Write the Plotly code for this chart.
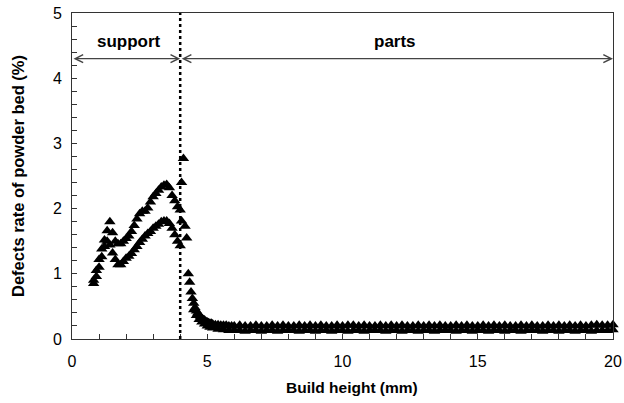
import plotly.graph_objects as go

# Support region: two interleaved branches (build height in mm, defect rate in %)
support_x = [0.8, 0.9, 1.0, 1.1, 1.2, 1.3, 1.4, 1.5, 1.6, 1.7, 1.8, 1.9, 2.0, 2.1, 2.2, 2.3, 2.4,
             2.5, 2.6, 2.7, 2.8, 2.9, 3.0, 3.1, 3.2, 3.3, 3.4, 3.5, 3.6, 3.7, 3.8, 3.9, 4.0]
support_upper = [0.90, 1.05, 1.22, 1.38, 1.52, 1.66, 1.80, 1.63, 1.50, 1.46, 1.46, 1.50, 1.54,
                 1.58, 1.65, 1.74, 1.84, 1.92, 1.96, 1.96, 2.01, 2.10, 2.18, 2.23, 2.28, 2.33,
                 2.36, 2.37, 2.32, 2.20, 2.12, 2.03, 1.98]
support_lower = [0.85, 0.96, 1.10, 1.26, 1.42, 1.50, 1.44, 1.32, 1.22, 1.14, 1.14, 1.19, 1.24,
                 1.27, 1.31, 1.37, 1.42, 1.48, 1.53, 1.58, 1.62, 1.65, 1.70, 1.73, 1.76, 1.80,
                 1.81, 1.81, 1.77, 1.70, 1.60, 1.50, 1.43]

# Transition just after the support/parts boundary
trans_x = [4.05, 4.12, 4.05, 4.18, 4.24]
trans_y = [2.40, 2.77, 1.81, 1.73, 1.55]

# Decay region
decay_x = [4.30, 4.35, 4.40, 4.45, 4.50, 4.55, 4.60, 4.65, 4.70, 4.75, 4.80, 4.85, 4.90, 4.95,
           5.00, 5.05, 5.10, 5.15, 5.20, 5.30, 5.40, 5.50, 5.60, 5.70, 5.80, 5.90]
decay_upper = [1.00, 0.87, 0.72, 0.62, 0.55, 0.48, 0.43, 0.40, 0.37, 0.34, 0.32, 0.30, 0.29, 0.27,
               0.26, 0.25, 0.24, 0.24, 0.23, 0.22, 0.22, 0.21, 0.21, 0.21, 0.20, 0.20]
decay_lower_x = [4.50, 4.60, 4.70, 4.80, 4.90, 5.00, 5.10, 5.20, 5.40, 5.60, 5.80]
decay_lower = [0.45, 0.36, 0.30, 0.26, 0.23, 0.20, 0.18, 0.17, 0.15, 0.14, 0.13]

# Parts region (flat)
parts_x = [6.0, 6.2, 6.4, 6.6, 6.8, 7.0, 7.2, 7.4, 7.6, 7.8, 8.0, 8.2, 8.4, 8.6, 8.8, 9.0, 9.2,
           9.4, 9.6, 9.8, 10.0, 10.2, 10.4, 10.6, 10.8, 11.0, 11.2, 11.4, 11.6, 11.8, 12.0, 12.2,
           12.4, 12.6, 12.8, 13.0, 13.2, 13.4, 13.6, 13.8, 14.0, 14.2, 14.4, 14.6, 14.8, 15.0,
           15.2, 15.4, 15.6, 15.8, 16.0, 16.2, 16.4, 16.6, 16.8, 17.0, 17.2, 17.4, 17.6, 17.8,
           18.0, 18.2, 18.4, 18.6, 18.8, 19.0, 19.2, 19.4, 19.6, 19.8, 20.0]
parts_upper = [0.20, 0.21, 0.20, 0.20, 0.21, 0.20, 0.20, 0.21, 0.20, 0.21, 0.20, 0.20, 0.21,
               0.20, 0.21, 0.20, 0.21, 0.20, 0.20, 0.21, 0.20, 0.21, 0.21, 0.20, 0.21, 0.20,
               0.20, 0.21, 0.20, 0.21, 0.20, 0.21, 0.20, 0.20, 0.21, 0.20, 0.21, 0.20, 0.21,
               0.20, 0.20, 0.21, 0.20, 0.21, 0.20, 0.20, 0.21, 0.20, 0.21, 0.20, 0.21, 0.20,
               0.20, 0.21, 0.20, 0.21, 0.20, 0.20, 0.21, 0.20, 0.21, 0.20, 0.21, 0.20, 0.21,
               0.20, 0.21, 0.22, 0.21, 0.21, 0.22]
parts_lower = [0.13, 0.13, 0.12, 0.13, 0.13, 0.12, 0.13, 0.13, 0.12, 0.13, 0.13, 0.13, 0.12,
               0.13, 0.13, 0.12, 0.13, 0.13, 0.12, 0.13, 0.13, 0.12, 0.13, 0.13, 0.12, 0.13,
               0.13, 0.13, 0.12, 0.13, 0.13, 0.12, 0.13, 0.13, 0.12, 0.13, 0.13, 0.12, 0.13,
               0.13, 0.13, 0.12, 0.13, 0.13, 0.12, 0.13, 0.13, 0.12, 0.13, 0.13, 0.12, 0.13,
               0.13, 0.12, 0.13, 0.13, 0.13, 0.12, 0.13, 0.13, 0.12, 0.13, 0.13, 0.12, 0.13,
               0.13, 0.12, 0.13, 0.13, 0.13, 0.14]

boundary_x = 4.0
arrow_y = 4.3
x_range = [0, 20]
y_range = [0, 5]

FONT = "Liberation Sans, Arial, sans-serif"
marker = dict(symbol="triangle-up", size=10, color="black")

fig = go.Figure()
series = [
    (support_x, support_upper), (support_x, support_lower),
    (trans_x, trans_y),
    (decay_x, decay_upper), (decay_lower_x, decay_lower),
    (parts_x, parts_upper), (parts_x, parts_lower),
]
for xs, ys in series:
    fig.add_trace(go.Scatter(x=xs, y=ys, mode="markers", marker=marker,
                             showlegend=False, cliponaxis=False))

# dotted boundary line
fig.add_shape(type="line", x0=boundary_x, x1=boundary_x, y0=y_range[0], y1=y_range[1],
              xref="x", yref="y", line=dict(color="black", width=2.5, dash="dot"))

# double-headed arrows
for x0, x1 in [(x_range[0], boundary_x), (boundary_x, x_range[1])]:
    fig.add_annotation(x=x1, y=arrow_y, ax=x0, ay=arrow_y, xref="x", yref="y",
                       axref="x", ayref="y", text="", showarrow=True,
                       arrowhead=5, startarrowhead=5, arrowside="end+start",
                       arrowsize=1.3, startarrowsize=1.3, arrowwidth=1.2,
                       arrowcolor="#444", standoff=0, startstandoff=0)

fig.add_annotation(x=2.1, y=4.57, text="<b>support</b>", showarrow=False,
                   font=dict(family=FONT, size=17, color="black"))
fig.add_annotation(x=11.95, y=4.57, text="<b>parts</b>", showarrow=False,
                   font=dict(family=FONT, size=17, color="black"))

# x-axis title (slightly right of centre, as in the reference)
fig.add_annotation(x=0.518, y=-0.148, xref="paper", yref="paper", yanchor="middle",
                   text="<b>Build height (mm)</b>", showarrow=False,
                   font=dict(family=FONT, size=15.5, color="black"))

fig.update_layout(
    width=624, height=403,
    margin=dict(l=72, r=11, t=13, b=64, autoexpand=False),
    paper_bgcolor="white", plot_bgcolor="white",
    font=dict(family=FONT, size=16, color="black"),
    xaxis=dict(range=x_range, dtick=5, tick0=0, ticks="inside", ticklen=5,
               tickcolor="#333", showline=True, linecolor="#333", linewidth=1,
               mirror=True, showgrid=False, zeroline=False, automargin=False,
               ticklabelstandoff=8,
               minor=dict(ticks="inside", dtick=1, ticklen=5, tickcolor="#333"),
               tickfont=dict(size=16)),
    yaxis=dict(range=y_range, dtick=1, tick0=0, ticks="inside", ticklen=5,
               tickcolor="#333", showline=True, linecolor="#333", linewidth=1,
               mirror=True, showgrid=False, zeroline=False, automargin=False,
               ticklabelstandoff=6,
               minor=dict(ticks="inside", dtick=0.2, ticklen=5, tickcolor="#333"),
               title=dict(text="<b>Defects rate of powder bed (%)</b>", font=dict(size=16.5),
                          standoff=24),
               tickfont=dict(size=16)),
)

fig.write_html("out.html")
